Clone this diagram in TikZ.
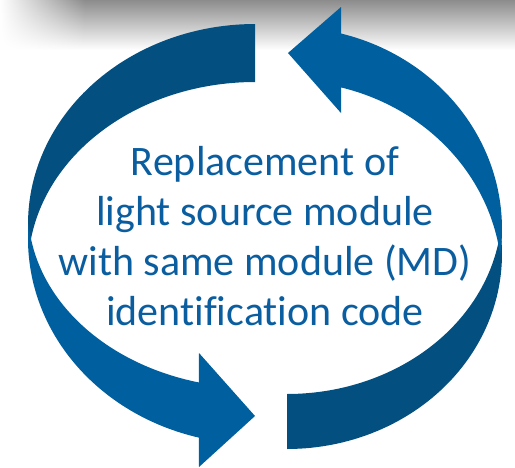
\documentclass[tikz,border=0pt]{standalone}
\usepackage{fontspec}
\setmainfont{Carlito}[Ligatures=NoCommon]
\usetikzlibrary{fadings}
\definecolor{flechefond}{RGB}{3,79,128}
\definecolor{flecheface}{RGB}{0,95,158}
\definecolor{texte}{RGB}{10,94,160}
\tikzfading[name=fondugauche, left color=transparent!0, right color=transparent!100]

\begin{document}
\begin{tikzpicture}[x=1pt, y=-1pt]
  \useasboundingbox (0,0) rectangle (515,467);
  % Ombre grise en haut
  \shade[top color=black!45, bottom color=white] (0,0) rectangle (515,50);
  \fill[white, path fading=fondugauche, fit fading=true] (0,0) rectangle (85,50);
  % Fleche gauche : partie arriere (foncee)
  \fill[flechefond] plot[domain=270:173.4, samples=60] ({255+227*cos(\x)}, {224+200*sin(\x)})
    -- plot[domain=186.75:270, samples=60] ({255+227*cos(\x)}, {269+187*sin(\x)}) -- cycle;
  % Fleche gauche : face avant avec pointe
  \fill[flecheface] plot[domain=184.3:104.3, samples=60] ({255+227*cos(\x)}, {239+205*sin(\x)})
    -- (199,467) -- (255,416) -- (199,353)
    -- plot[domain=104.3:175.65, samples=60] ({255+227*cos(\x)}, {210+178*sin(\x)}) -- cycle;
  % Fleche droite : partie arriere (foncee)
  \fill[flechefond] plot[domain=90:-6.8, samples=60] ({287+215*cos(\x)}, {254+195*sin(\x)})
    -- plot[domain=6.8:90, samples=60] ({287+215*cos(\x)}, {209+185*sin(\x)}) -- cycle;
  % Fleche droite : face avant avec pointe
  \fill[flecheface] (288,53) -- (341,7)
    -- plot[domain=-75.45:7.42, samples=60] ({287+215*cos(\x)}, {229+202*sin(\x)})
    -- plot[domain=-7.44:-75.45, samples=60] ({287+215*cos(\x)}, {281+200*sin(\x)})
    -- (341,113) -- cycle;
  % Texte central
  \node[text=texte, font=\fontsize{42}{50}\selectfont, align=center] (legende) at (265,236)
    {Replacement of\\light source module\\with same module (MD)\\identification code};
\end{tikzpicture}
\end{document}
